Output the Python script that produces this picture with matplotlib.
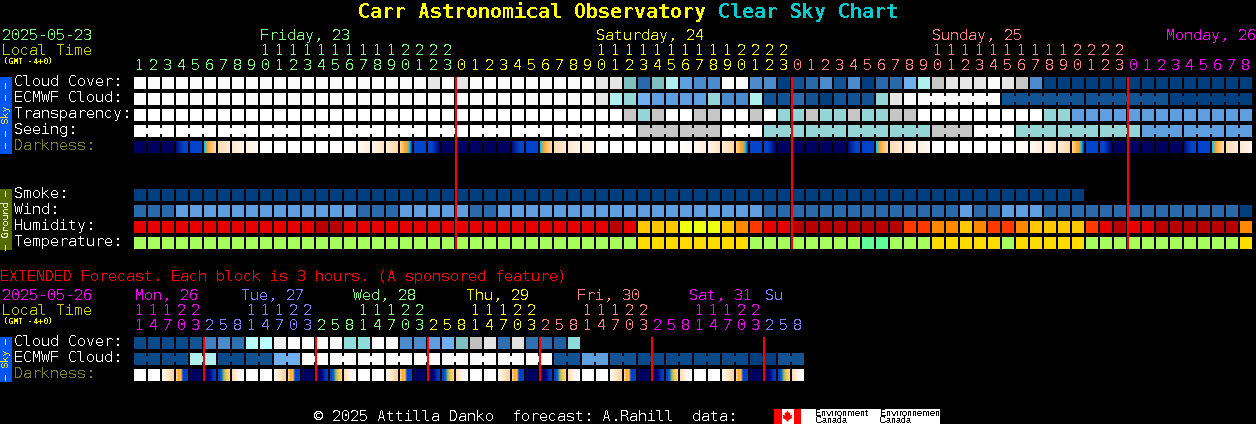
import numpy as np
import matplotlib
matplotlib.use("Agg")
import matplotlib.pyplot as plt
from matplotlib.colors import to_rgb
from matplotlib.patches import Rectangle, Polygon

plt.rcParams['text.antialiased'] = False
plt.rcParams['text.hinting'] = 'native'
plt.rcParams['text.hinting_factor'] = 1

# ---------- data ----------
SHADES = {
    'd0': '#003f7f', 'd0b': '#0a4a8a', 'd1': '#135393', 'd2': '#2a6aaa', 'd3': '#4c8ccc',
    'd4': '#5f9fe0', 'd5': '#70b0f0', 't1': '#7fbfbf', 't2': '#95d5d5', 't3': '#afefef',
    't4': '#b9ffff', 'g1': '#c6c6c6', 'g2': '#e6e6e6', 'w': '#fbfbfb', 'W': '#ffffff',
    'r0': '#b80000', 'r1': '#e60000', 'r2': '#ff3800', 'r3': '#ff8800', 'r4': '#ffc800',
    'r5': '#eeff10', 'a': '#a6ff5c', 'b': '#ffdc00', 'c': '#60ff9a',
}

cloud_cover = ['w'] * 21 + ['g2', 'w', 'g2'] + ['w'] * 9 + [
    'g2', 'g2', 't1', 'd2', 't1', 't3', 'd4', 'd3', 'd3', 'w', 'w', 'd3', 'd3', 'd0', 'd1', 'd2',
    'd3', 'd1', 'd3', 'd0', 'd2', 'd2', 'd5', 't3', 'g1', 'g2', 'g2', 'g2', 'w', 'g2', 'g1', 'd3',
] + ['d0'] * 15
ecmwf_cloud = ['w'] * 33 + [
    'g2', 't3', 't2', 'd5', 'd4', 'd4', 'd4', 'd4', 't2', 'd3', 'd3', 't3', 'd1', 'd1', 'd2', 'd1',
    'd0', 'd1', 'd1', 'd1', 't2', 'g2', 'w',
] + ['w'] * 6 + ['d1'] * 6 + ['d1'] * 6 + ['d0'] * 6
ecmwf_groups = [1] * 56 + [6, 6, 6, 6]
transparency = ['W'] * 35 + [
    'g1', 't2', 'g1', 'W', 'W', 'g1', 'g1', 'W', 'W', 'g1', 'W', 't2', 't2', 'g1', 't2', 't2', 'g1',
    't2', 't2', 'g1', 'g1',
] + ['W'] * 9 + ['t2', 't2'] + ['d4'] * 13
seeing_3h = ['W'] * 12 + ['g1', 'g1', 'W', 't2', 't2', 't2', 't2', 'g1', 'W', 't2', 't2', 't2',
                          'd4', 'd4', 'd4']
DARK_DAY = [
    ['#000060'], ['#000060'], ['#000060'],
    ['#00107f', '#0030a8', '#0044c8', '#0044c8'], ['#0044cc'],
    ['#00c8ff', '#ffa020', '#ffb850', '#ffc880', '#ffd8a0'],
    ['#ffdcb0', '#ffecd8'], ['#ffe8d0', '#fff4ea'], ['#fff0e0', '#fff8f4'],
    ['#ffffff'], ['#ffffff'], ['#ffffff'], ['#ffffff'], ['#ffffff'], ['#ffffff'],
    ['#ffffff', '#fffaf5'], ['#fff8f0', '#ffeedd'], ['#fff4e8', '#ffe4c4'], ['#ffecd8', '#ffd8a8'],
    ['#ffd090', '#ffc060', '#ffa830', '#ffa020', '#00c8ff', '#0044cc'],
    ['#0044cc'], ['#0044c8', '#0044c8', '#0020a0', '#000080'], ['#000060'], ['#000060'],
]
darkness = DARK_DAY * 3 + DARK_DAY[:8]

smoke = ['d0'] * 68
wind = ['d2'] * 3 + ['d4'] * 13 + ['d2'] * 3 + ['d4'] * 5 + ['d2'] * 2 + ['d4'] * 19 + \
       ['d2'] * 14 + ['d4'] + ['d2'] * 2 + ['d4'] * 3 + ['d2'] * 14 + ['d0']
humidity = ['r1'] * 13 + ['r0', 'r0'] + ['r1'] * 19 + ['r0', 'r1', 'r4', 'r4', 'r4', 'r5', 'r5', 'r5', 'r4',
            'r3', 'r2', 'r1', 'r1'] + ['r0'] * 8 + ['r2', 'r2', 'r3', 'r3', 'r4', 'r3', 'r2', 'r2', 'r3',
            'r4', 'r4', 'r4', 'r4', 'r2', 'r1', 'r0', 'r1', 'r1'] + ['r0'] * 6 + ['r3']
temperature = ['a'] * 36 + ['b'] * 8 + ['a'] * 8 + ['c', 'c'] + ['a'] * 3 + ['b'] * 5 + ['a'] + ['b'] * 5 + \
              ['a'] * 11 + ['b']

ext_cloud = ['d0b'] * 4 + ['d1', '#4080c0', 'd3', '#3070b0', 't4', 't4', '#f0f0f0', 'w', 'w', 'w', 'w',
             '#90dcdc', '#90dcdc', 'w', 'w', 'd3', 'd3', 'd4', 'd5', 't1', '#c0c0c0', '#e4e4e4', '#3070b0',
             '#e0e0e0', '#3070b0', 'd2', '#1f5f9f', '#90dcdc']
ext_ecmwf_2 = ['d0b', 'd0b', 't3', 'd0b', 'd1', 'd5'] + ['w'] * 9 + ['d1', 'd4', 'd1', 'd0b', 'd0b', 'd0b',
               'd0b', 'd0', 'd1']
EXT_DARK_DAY = [
    ['#ffffff'], ['#ffffff'], ['#fff8f0', '#ffe8cc', '#ffd090'],
    ['#ffd090', '#ffa830', '#ffc060', '#0040c8', '#0040c8', '#0040c8'],
    ['#000060'], ['#000060', '#000060', '#000080', '#0030b0', '#0040c0'],
    ['#0040c0', '#0060c0', '#90c060', '#ffc060', '#ffd890'], ['#ffe0b0', '#fff4e8', '#ffffff'],
]
ext_darkness = EXT_DARK_DAY * 6

top_hours = list(range(1, 24)) + list(range(24)) + list(range(24)) + list(range(9))
top_hour_colors = ['#80ff80'] * 23 + ['#ffff00'] * 24 + ['#ff8080'] * 24 + ['#ff00ff'] * 9
top_days = ['Friday, 23', 'Saturday, 24', 'Sunday, 25', 'Monday, 26']
top_day_colors = ['#80ff80', '#ffff00', '#ff8080', '#ff00ff']

ext_hours = [11, 14, 17, 20, 23] + [2, 5, 8, 11, 14, 17, 20, 23] * 5 + [2, 5, 8]
ext_hour_colors = ['#ff00ff'] * 5 + ['#8080ff'] * 8 + ['#80ff80'] * 8 + ['#ffff00'] * 8 + ['#ff8080'] * 8 + \
                  ['#ff00ff'] * 8 + ['#8080ff'] * 3
ext_days = ['Mon, 26', 'Tue, 27', 'Wed, 28', 'Thu, 29', 'Fri, 30', 'Sat, 31', 'Su']
ext_day_colors = ['#ff00ff', '#8080ff', '#80ff80', '#ffff00', '#ff8080', '#ff00ff', '#8080ff']
ext_day_x = [135, 241, 353, 466, 577, 689, 765]

# ---------- canvas ----------
W, H = 1256, 424
fig = plt.figure(figsize=(W / 100, H / 100), dpi=100, facecolor='black')
ax = fig.add_axes([0, 0, 1, 1])
ax.set_facecolor('black')
ax.axis('off')

X0, PITCH, SIZE = 134, 14, 12
MONO = 'DejaVu Sans Mono'
PX = 0.72


def color(c):
    return SHADES.get(c, c)


def rect(x, y, w, h, c, z=2):
    ax.add_patch(Rectangle((x, y), w, h, facecolor=color(c), edgecolor='none', lw=0, antialiased=False, zorder=z))


def row(values, y, groups=None):
    """Blocks of one row; cells of a group are bridged by a narrower strip."""
    for i, v in enumerate(values):
        rect(X0 + i * PITCH, y, SIZE, SIZE, v)
    if groups:
        i = 0
        for g in groups:
            for k in range(i, i + g - 1):
                if k + 1 < len(values):
                    rect(X0 + k * PITCH + SIZE, y + 3, PITCH - SIZE, SIZE - 6, values[k])
            i += g


def gradient_row(cells, y):
    for i, stops in enumerate(cells):
        rgb = np.array([to_rgb(s) for s in stops])
        if len(stops) == 1:
            rgb = np.vstack([rgb, rgb])
        t = np.linspace(0, 1, SIZE)
        pos = np.linspace(0, 1, len(rgb))
        img = np.stack([np.interp(t, pos, rgb[:, c]) for c in range(3)], axis=-1)[None, :, :]
        x = X0 + i * PITCH
        ax.imshow(img, extent=(x, x + SIZE, y + SIZE, y), aspect='auto', interpolation='nearest', zorder=2)


def text(x, y, s, c='white', px=14.95, family=MONO, weight='normal', **kw):
    ax.text(x, y, s, color=c, fontsize=px * PX, family=family, weight=weight, va='baseline', ha=kw.pop('ha', 'left'),
            zorder=5, **kw)


# Title
text(358, 18, 'Carr Astronomical Observatory', '#ffff00', 19.93, 'DejaVu Sans Mono', 'bold')
text(718, 18, 'Clear Sky Chart', '#00cccc', 19.93, 'DejaVu Sans Mono', 'bold')

# Top header
text(2, 40, '2025-05-23', '#80ff80')
text(2, 55, 'Local Time', '#c8c800')
text(3, 64, '(GMT -4+0)', '#ffff00', 7.8, 'DejaVu Sans Mono', 'bold')
for s, c, x in zip(top_days, top_day_colors, [260, 596, 932, 1166]):
    text(x, 40, s, c)
for i, (h, c) in enumerate(zip(top_hours, top_hour_colors)):
    xc = X0 + i * PITCH + 1
    text(xc, 70, str(h % 10), c)
    if h >= 10:
        text(xc, 55, str(h // 10), c)

# Top rows
labels = ['Cloud Cover:', 'ECMWF Cloud:', 'Transparency:', 'Seeing:', 'Darkness:']
for k, s in enumerate(labels):
    text(14, 86 + 16 * k, s, '#808020' if k == 4 else 'white')
row(cloud_cover, 77)
row(ecmwf_cloud, 93, ecmwf_groups)
row(transparency, 109)
row([v for v in seeing_3h for _ in range(3)][:80], 125, [3] * 27)
gradient_row(darkness, 141)

ground = ['Smoke:', 'Wind:', 'Humidity:', 'Temperature:']
for k, s in enumerate(ground):
    text(14, 198 + 16 * k, s)
row(smoke, 189)
row(wind, 205)
row(humidity, 221)
row(temperature, 237)

# Side bars
rect(0, 77, 12, 77, '#0055ee')
rect(0, 189, 12, 61, '#556b00')
rect(0, 337, 12, 45, '#0055ee')
for yc, s, c in [(115.5, '\u2014 \u2014 Sky \u2014 \u2014', '#ffe040'), (219.5, '\u2014 Ground \u2014', '#e8f0d0'),
                 (359.5, '\u2014 Sky \u2014', '#ffff00')]:
    ax.text(6, yc, s, color=c, fontsize=10 * PX, family=MONO, rotation=90, ha='center', va='center', zorder=5)

# Extended section
text(0, 281, 'EXTENDED Forecast. Each block is 3 hours. (A sponsored feature)', '#ff0000')
text(2, 300, '2025-05-26', '#ff00ff')
text(2, 315, 'Local Time', '#c8c800')
text(3, 324, '(GMT -4+0)', '#ffff00', 7.8, 'DejaVu Sans Mono', 'bold')
for s, c, x in zip(ext_days, ext_day_colors, ext_day_x):
    text(x, 300, s, c)
for i, (h, c) in enumerate(zip(ext_hours, ext_hour_colors)):
    xc = X0 + i * PITCH + 1
    text(xc, 330, str(h % 10), c)
    if h >= 10:
        text(xc, 315, str(h // 10), c)
for k, s in enumerate(['Cloud Cover:', 'ECMWF Cloud:', 'Darkness:']):
    text(14, 346 + 16 * k, s, '#808020' if k == 2 else 'white')
row(ext_cloud, 337)
row([v for v in ext_ecmwf_2 for _ in range(2)], 353, [2] * 24)
gradient_row(ext_darkness, 369)

# Midnight markers
for i in [23, 47, 71]:
    rect(X0 + i * PITCH - 1, 77, 2, 172, '#ff0000', 4)
for i in [5, 13, 21, 29, 37, 45]:
    rect(X0 + i * PITCH - 1, 337, 2, 44, '#ff0000', 4)

# Footer
text(314, 421, '\u00a9 2025 Attilla Danko  forecast: A.Rahill  data:')
rect(774, 409, 166, 15, '#ffffff')
rect(774, 409, 8, 15, '#ff0000')
rect(794, 409, 7, 15, '#ff0000')
leaf = np.array([[0, -6], [1.5, -3.5], [3, -4], [2.5, -1], [5, -2], [4, 0.5], [5, 1.5], [1, 3.5], [1, 5], [-1, 5],
                 [-1, 3.5], [-5, 1.5], [-4, 0.5], [-5, -2], [-2.5, -1], [-3, -4], [-1.5, -3.5]])
ax.add_patch(Polygon(leaf + [787.5, 416.5], closed=True, facecolor='#ff0000', edgecolor='none', zorder=3))
for x, s in [(815, 'Environment'), (880, 'Environnement')]:
    text(x, 416, s, 'black', 9, 'Liberation Sans')
for x in (815, 880):
    text(x, 423, 'Canada', 'black', 9, 'Liberation Sans')

ax.set_xlim(0, W)
ax.set_ylim(H, 0)
fig.savefig('out.png', dpi=100, facecolor='black')
